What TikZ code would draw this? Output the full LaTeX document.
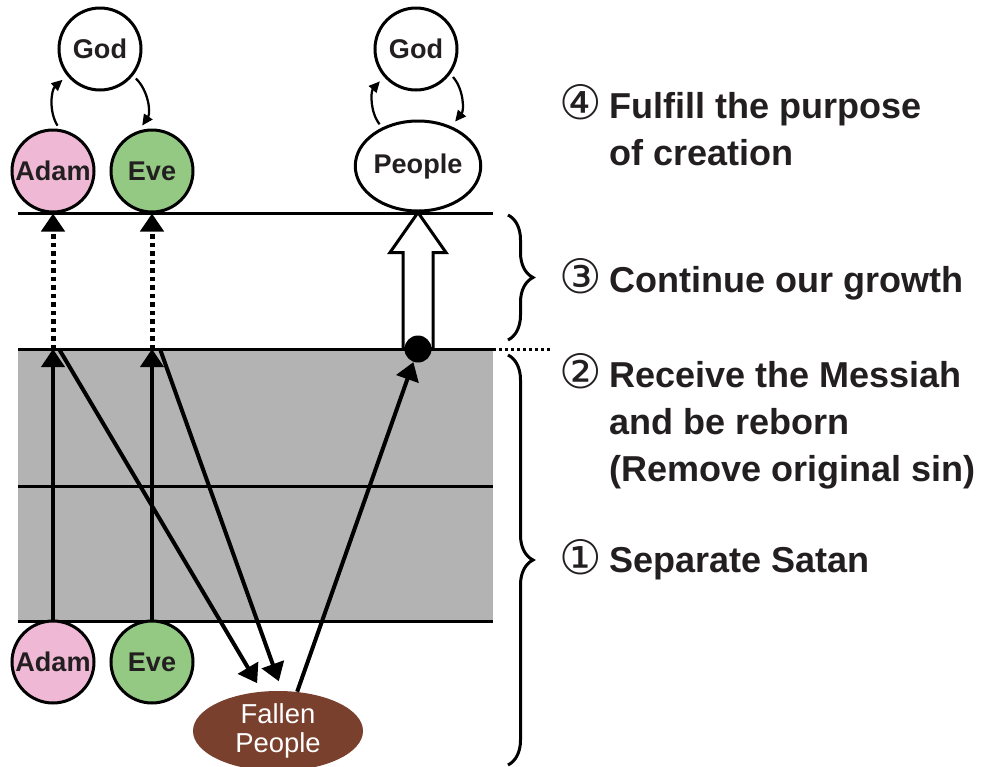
\documentclass[tikz,border=0pt]{standalone}
\usepackage{fontspec}
\setmainfont{Liberation Sans}
\newfontfamily\circledFont{DejaVu Sans}
\usepackage{tikz}
\usetikzlibrary{arrows.meta,shapes.geometric,decorations.pathreplacing}
\definecolor{adamPink}{RGB}{239,185,214}
\definecolor{eveGreen}{RGB}{147,201,131}
\definecolor{fallenBrown}{RGB}{121,64,46}
\definecolor{levelGray}{RGB}{179,179,179}
\definecolor{inkGray}{RGB}{35,31,32}

\begin{document}
\begin{tikzpicture}[
    x=0.2mm, y=-0.2mm,
    person/.style={
        circle,
        draw=black,
        line width=0.6mm,
        minimum size=16.4mm,
        inner sep=0pt,
        text=inkGray,
        font=\fontsize{15.4}{17}\selectfont\bfseries
    },
    peopleOval/.style={
        person,
        ellipse,
        fill=white,
        minimum width=24.4mm,
        minimum height=18mm
    },
    fallenOval/.style={
        ellipse,
        fill=fallenBrown,
        minimum width=34mm,
        minimum height=16mm,
        inner sep=0pt,
        align=center,
        text=white,
        font=\fontsize{15.6}{16.8}\selectfont
    },
    levelLine/.style={line width=0.6mm},
    mainArrow/.style={-{Triangle[length=3.6mm, width=4.6mm]}, line width=0.8mm},
    dottedArrow/.style={mainArrow, line width=1mm, dash pattern=on 0.9mm off 0.8mm},
    loopArrow/.style={-{Triangle[length=2.2mm, width=2mm]}, line width=0.45mm,
        shorten >=1.2mm, shorten <=0.8mm},
    stageBrace/.style={decorate, decoration={brace, amplitude=5mm}, line width=0.6mm},
    stageText/.style={anchor=north west, inner sep=0pt, align=left, text=inkGray,
        font=\fontsize{20.5}{26.75}\selectfont\bfseries},
    stageNum/.style={anchor=base, inner sep=0pt, text=inkGray,
        font=\fontsize{27}{28}\selectfont\circledFont}
]
    \useasboundingbox (0,0) rectangle (982,767);

    \fill[levelGray] (18,349) rectangle (493,621);
    \draw[levelLine] (18,213) -- (493,213);
    \draw[levelLine] (18,349) -- (493,349);
    \draw[levelLine] (18,486) -- (493,486);
    \draw[levelLine] (18,621) -- (493,621);
    \draw[levelLine, dash pattern=on 0.6mm off 0.6mm] (493,349) -- (552,349);

    \node[person, fill=white] (godLeft) at (100,49) {God};
    \node[person, fill=white] (godRight) at (416,49) {God};
    \node[person, fill=adamPink] (adamTop) at (53,171) {Adam};
    \node[person, fill=eveGreen] (eveTop) at (152,171) {Eve};
    \node[peopleOval] (peopleTop) at (418,166) {People};
    \node[person, fill=adamPink] (adamBottom) at (53,662) {Adam};
    \node[person, fill=eveGreen] (eveBottom) at (152,662) {Eve};
    \node[fallenOval] (fallen) at (278,731) {Fallen\\People};

    \coordinate (adamMid) at (53,349);
    \coordinate (eveMid) at (152,349);
    \coordinate (adamSplit) at (59,349);
    \coordinate (eveSplit) at (160,349);

    \draw[line width=0.6mm, fill=white, line join=miter] (peopleTop.south)
        -- ++(28,40) -- ++(-13,0) -- ++(0,96) -- ++(-30,0) -- ++(0,-96)
        -- ++(-13,0) -- cycle;
    \node[circle, fill=black, minimum size=5.4mm, inner sep=0pt] (dot) at (418,349) {};

    \draw[loopArrow] (adamTop.81) to[bend left=40] (godLeft.219);
    \draw[loopArrow] (godLeft.321) to[bend left=40] (eveTop.108);
    \draw[loopArrow] (peopleTop.133) to[bend left=40] (godRight.221);
    \draw[loopArrow] (godRight.324) to[bend left=40] (peopleTop.50);

    \draw[dottedArrow] (adamMid) -- (adamTop);
    \draw[dottedArrow] (eveMid) -- (eveTop);
    \draw[mainArrow] (adamBottom) -- (adamMid);
    \draw[mainArrow] (eveBottom) -- (eveMid);
    \draw[mainArrow, shorten >=1.9mm] (adamSplit) -- (fallen.112);
    \draw[mainArrow, shorten >=2mm] (eveSplit) -- (fallen.84);
    \draw[mainArrow] (fallen.64) -- (dot);

    \draw[stageBrace] (508,215) -- (508,340);
    \draw[stageBrace] (508,355) -- (508,765);

    \node[stageNum] (num4) at (581,119) {④};
    \node[stageText] (stage4) at (609,92) {Fulfill the purpose\\of creation};
    \node[stageNum] (num3) at (581,293) {③};
    \node[stageText] (stage3) at (609,266) {Continue our growth};
    \node[stageNum] (num2) at (581,388) {②};
    \node[stageText] (stage2) at (609,361) {Receive the Messiah\\and be reborn\\(Remove original sin)};
    \node[stageNum] (num1) at (581,574) {①};
    \node[stageText] (stage1) at (609,547) {Separate Satan};
\end{tikzpicture}
\end{document}
